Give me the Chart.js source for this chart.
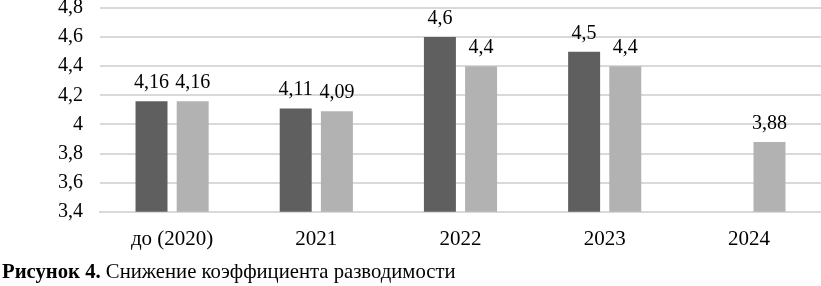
<!DOCTYPE html>
<html>
<head>
<meta charset="utf-8">
<script src="https://cdn.jsdelivr.net/npm/chart.js@4/dist/chart.umd.min.js"></script>
<style>
  html, body { margin: 0; padding: 0; background: #fff; }
  body { width: 821px; height: 286px; position: relative; overflow: hidden; font-family: "Liberation Serif", serif; }
  #wrap { position: absolute; left: 0; top: -17px; width: 821px; height: 284px; }
  #caption { position: absolute; left: 2px; top: 261px; font-family: "Liberation Serif", serif; font-size: 20.7px; line-height: 21px; color: #000; white-space: nowrap; }
</style>
</head>
<body>
<div id="wrap"><canvas id="c"></canvas></div>
<div id="caption"><b>Рисунок 4.</b> Снижение коэффициента разводимости</div>
<script>
const categories = ["до (2020)", "2021", "2022", "2023", "2024"];
const seriesA = [4.16, 4.11, 4.6, 4.5, null];
const seriesB = [4.16, 4.09, 4.4, 4.4, 3.88];
const yMin = 3.4, yMax = 4.8, yStep = 0.2;

const FONT = '"Liberation Serif", serif';
const fmt = v => (Math.round(v * 100) / 100).toString().replace('.', ',');

const labelPlugin = {
  id: 'barLabels',
  afterDatasetsDraw(chart) {
    const ctx = chart.ctx;
    ctx.save();
    ctx.font = '20px ' + FONT;
    ctx.fillStyle = '#000';
    ctx.textAlign = 'center';
    ctx.textBaseline = 'alphabetic';
    chart.data.datasets.forEach((ds, i) => {
      const meta = chart.getDatasetMeta(i);
      meta.data.forEach((bar, j) => {
        const v = ds.data[j];
        if (v === null || v === undefined) return;
        ctx.fillText(fmt(v), bar.x, bar.y - 13);
      });
    });
    ctx.restore();
  }
};

function build() {
  new Chart(document.getElementById('c'), {
    type: 'bar',
    data: {
      labels: categories,
      datasets: [
        { data: seriesA, backgroundColor: '#5f5f5f', categoryPercentage: 0.571, barPercentage: 0.777 },
        { data: seriesB, backgroundColor: '#b2b2b2', categoryPercentage: 0.571, barPercentage: 0.777 }
      ]
    },
    options: {
      responsive: true,
      maintainAspectRatio: false,
      animation: false,
      plugins: { legend: { display: false }, tooltip: { enabled: false } },
      scales: {
        x: {
          grid: { display: false, drawTicks: false },
          border: { display: true, color: '#d9d9d9', width: 2 },
          ticks: { color: '#000', font: { family: FONT, size: 21 }, padding: 15 }
        },
        y: {
          min: yMin, max: yMax,
          afterFit(scale) { scale.width = 100; },
          grid: { color: '#d9d9d9', lineWidth: 2, drawTicks: false },
          border: { display: false },
          ticks: {
            stepSize: yStep,
            color: '#000',
            padding: 17,
            font: { family: FONT, size: 20, lineHeight: 0.8 },
            callback: v => fmt(v)
          }
        }
      }
    },
    plugins: [labelPlugin]
  });
}

if (document.fonts && document.fonts.load) {
  Promise.all([
    document.fonts.load('20px "Liberation Serif"'),
    document.fonts.load('bold 20px "Liberation Serif"')
  ]).then(build, build);
} else {
  build();
}
</script>
</body>
</html>
